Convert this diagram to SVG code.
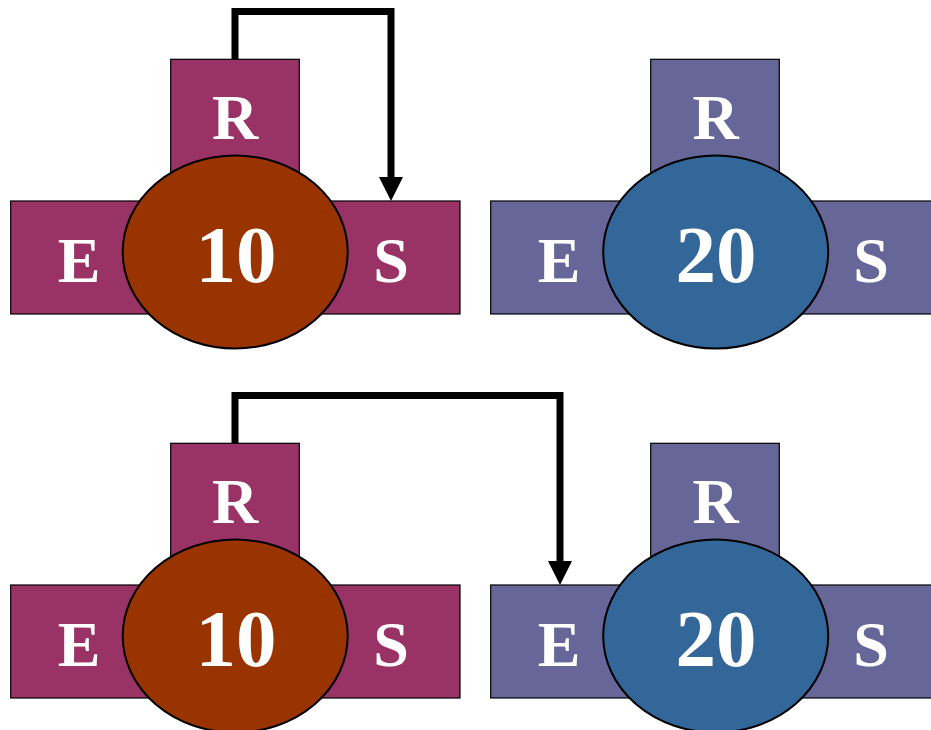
<svg xmlns="http://www.w3.org/2000/svg" width="931" height="730" viewBox="0 0 931 730">
  <style>
    .bar-a { fill: #993366; stroke: #000; stroke-width: 1.2; }
    .bar-b { fill: #666699; stroke: #000; stroke-width: 1.2; }
    .core-a { fill: #993300; stroke: #000; stroke-width: 2; }
    .core-b { fill: #336699; stroke: #000; stroke-width: 2; }
    text { font-family: 'Liberation Serif', 'Times New Roman', Times, serif; font-weight: 700; fill: #fff; text-anchor: middle; font-size: 64px; }
    .num { font-size: 81px; }
    .wire { fill: none; stroke: #000; stroke-width: 7; stroke-linejoin: miter; }
    .head { fill: #000; }
  </style>

  <!-- upper row -->
  <g id="node-10-top">
    <rect class="bar-a" x="10.7" y="201" width="449.3" height="113"/>
    <rect class="bar-a" x="170.7" y="59.3" width="128.6" height="141.7"/>
    <ellipse class="core-a" cx="235.2" cy="252" rx="112.5" ry="96.5"/>
    <text x="235" y="139">R</text>
    <text x="79" y="282">E</text>
    <text x="391" y="282">S</text>
    <text class="num" x="236" y="282">10</text>
  </g>
  <g id="node-20-top">
    <rect class="bar-b" x="490.7" y="201" width="449.3" height="113"/>
    <rect class="bar-b" x="650.7" y="59.3" width="128.6" height="141.7"/>
    <ellipse class="core-b" cx="715.7" cy="252" rx="112.5" ry="96.5"/>
    <text x="715.5" y="139">R</text>
    <text x="559" y="282">E</text>
    <text x="871" y="282">S</text>
    <text class="num" x="716" y="282">20</text>
  </g>

  <!-- lower row -->
  <g id="node-10-bottom">
    <rect class="bar-a" x="10.7" y="585" width="449.3" height="113"/>
    <rect class="bar-a" x="170.7" y="443.3" width="128.6" height="141.7"/>
    <ellipse class="core-a" cx="235.2" cy="636" rx="112.5" ry="96.5"/>
    <text x="235" y="523">R</text>
    <text x="79" y="666">E</text>
    <text x="391" y="666">S</text>
    <text class="num" x="236" y="666">10</text>
  </g>
  <g id="node-20-bottom">
    <rect class="bar-b" x="490.7" y="585" width="449.3" height="113"/>
    <rect class="bar-b" x="650.7" y="443.3" width="128.6" height="141.7"/>
    <ellipse class="core-b" cx="715.7" cy="636" rx="112.5" ry="96.5"/>
    <text x="715.5" y="523">R</text>
    <text x="559" y="666">E</text>
    <text x="871" y="666">S</text>
    <text class="num" x="716" y="666">20</text>
  </g>

  <g id="connectors">
    <path class="wire" d="M235,59.3 V11.5 H391 V178"/>
    <polygon class="head" points="379,177 403,177 391,201"/>
    <path class="wire" d="M235,443.3 V395.5 H560 V562"/>
    <polygon class="head" points="548,561 572,561 560,585"/>
  </g>
</svg>
